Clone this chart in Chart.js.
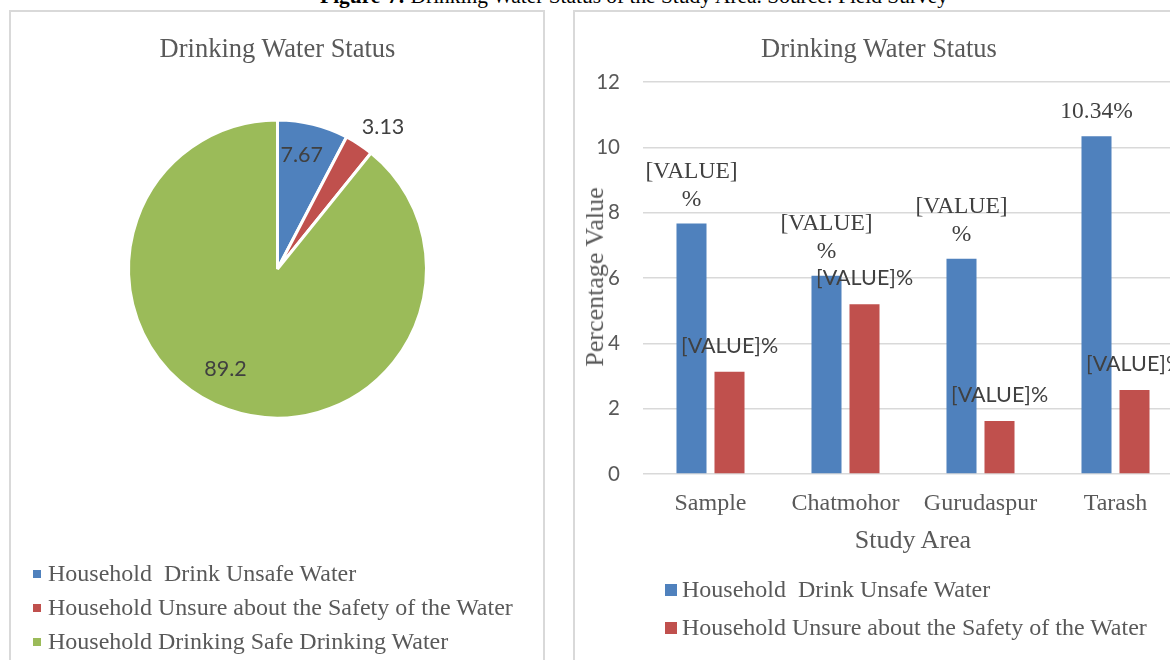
<!DOCTYPE html>
<html>
<head>
<meta charset="utf-8">
<script src="https://cdn.jsdelivr.net/npm/chart.js@4.4.1/dist/chart.umd.min.js"></script>
<style>
html,body{margin:0;padding:0;width:1170px;height:660px;overflow:hidden;background:#fff;}
body{position:relative;font-family:"Liberation Serif","Times New Roman",serif;color:#595959;}
#caption{position:absolute;left:634px;top:-15px;transform:translateX(-50%);font-size:21.4px;line-height:23px;color:#000;white-space:nowrap;}
.panel{position:absolute;box-sizing:border-box;border:2px solid #d9d9d9;border-bottom:none;}
#panelL{left:9px;top:10px;width:536px;height:700px;}
#panelR{left:573px;top:10px;width:700px;height:700px;border-right:none;}
.ctext{position:absolute;white-space:pre;transform:translate(-50%,-50%);line-height:1.15;}
.title{font-size:26.5px;}
.axis{font-size:26px;}
.legend{position:absolute;font-size:24px;line-height:1.15;white-space:pre;}
.legend .row{position:absolute;left:0;white-space:pre;transform:translateY(-50%);}
canvas{position:absolute;}
</style>
</head>
<body>
<div id="caption"><b>Figure-7:</b> Drinking Water Status of the Study Area. Source: Field Survey</div>
<div class="panel" id="panelL"></div>
<div class="panel" id="panelR"></div>
<canvas id="pie" width="560" height="660" style="left:0;top:0;"></canvas>
<canvas id="bar" width="620" height="660" style="left:576px;top:0;"></canvas>
<div class="ctext title" style="left:277.5px;top:48px;">Drinking Water Status</div>
<div class="ctext title" style="left:879px;top:48px;">Drinking Water Status</div>
<div class="ctext axis" style="left:913px;top:540px;">Study Area</div>
<div class="ctext axis" style="left:595px;top:277px;transform:translate(-50%,-50%) rotate(-90deg);">Percentage Value</div>
<div class="legend" id="legL" style="left:0;top:0;"></div>
<div class="legend" id="legR" style="left:0;top:0;"></div>
<script>
// ---- data ----
const pieLabels = ["Household  Drink Unsafe Water", "Household Unsure about the Safety of the Water", "Household Drinking Safe Drinking Water"];
const pieValues = [7.67, 3.13, 89.2];
const pieColors = ["#4F81BD", "#C0504D", "#9BBB59"];
const pieValueLabels = ["7.67", "3.13", "89.2"];

const categories = ["Sample", "Chatmohor", "Gurudaspur", "Tarash"];
const seriesNames = ["Household  Drink Unsafe Water", "Household Unsure about the Safety of the Water"];
const unsafeValues = [7.67, 6.07, 6.59, 10.34];
const unsureValues = [3.13, 5.20, 1.62, 2.57];
const unsafeLabelText = [["[VALUE]", "%"], ["[VALUE]", "%"], ["[VALUE]", "%"], ["10.34%"]];
const unsureLabelText = ["[VALUE]%", "[VALUE]%", "[VALUE]%", "[VALUE]%"];
const yMin = 0, yMax = 12, yStep = 2;

// ---- styles (placement of pie labels relative to slice: angle shift deg, radius factor) ----
const pieLabelPlace = [{da: -1.8, rf: 0.783}, {da: 3.45, rf: 1.186}, {da: 8.06, rf: 0.755}];

function buildLegend(el, names, colors, x0, rows, sw, textX) {
  names.forEach((n, i) => {
    const r = document.createElement('div');
    r.className = 'row';
    r.style.top = rows[i] + 'px';
    r.style.left = textX + 'px';
    r.textContent = n;
    el.appendChild(r);
    const s = document.createElement('div');
    s.style.position = 'absolute';
    s.style.left = x0 + 'px';
    s.style.top = (rows[i] - sw / 2) + 'px';
    s.style.width = sw + 'px';
    s.style.height = sw + 'px';
    s.style.background = colors[i];
    el.appendChild(s);
  });
}
buildLegend(document.getElementById('legL'), pieLabels, pieColors, 33, [574, 608, 642], 8, 48);
buildLegend(document.getElementById('legR'), seriesNames, pieColors.slice(0, 2), 665, [590, 628], 12, 682);

const pieLabelPlugin = {
  id: 'pieLabels',
  afterDatasetsDraw(chart) {
    const ctx = chart.ctx;
    const meta = chart.getDatasetMeta(0);
    ctx.save();
    ctx.font = '21.5px Lato';
    ctx.fillStyle = '#404040';
    ctx.textAlign = 'center';
    ctx.textBaseline = 'middle';
    meta.data.forEach((arc, i) => {
      const p = pieLabelPlace[i];
      const mid = (arc.startAngle + arc.endAngle) / 2 + p.da * Math.PI / 180;
      const r = arc.outerRadius * p.rf;
      ctx.fillText(pieValueLabels[i], arc.x + Math.cos(mid) * r, arc.y + Math.sin(mid) * r);
    });
    ctx.restore();
  }
};

const barLabelPlugin = {
  id: 'barLabels',
  afterDatasetsDraw(chart) {
    const ctx = chart.ctx;
    ctx.save();
    ctx.textAlign = 'center';
    ctx.textBaseline = 'middle';
    ctx.fillStyle = '#404040';
    ctx.font = '23.5px "Liberation Serif"';
    chart.getDatasetMeta(0).data.forEach((bar, i) => {
      const lines = unsafeLabelText[i];
      lines.forEach((t, j) => {
        ctx.fillText(t, bar.x, bar.y - 24 - (lines.length - 1 - j) * 28);
      });
    });
    ctx.font = '21.5px Lato';
    chart.getDatasetMeta(1).data.forEach((bar, i) => {
      ctx.fillText(unsureLabelText[i], bar.x, bar.y - 26);
    });
    ctx.restore();
  }
};

function draw() {
  new Chart(document.getElementById('pie'), {
    type: 'pie',
    data: {
      labels: pieLabels,
      datasets: [{data: pieValues, backgroundColor: pieColors, borderColor: '#ffffff', borderWidth: 3}]
    },
    options: {
      responsive: false,
      animation: false,
      layout: {padding: {left: 127, top: 118.5, right: 132, bottom: 240.5}},
      plugins: {legend: {display: false}, tooltip: {enabled: false}, title: {display: false}}
    },
    plugins: [pieLabelPlugin]
  });

  new Chart(document.getElementById('bar'), {
    type: 'bar',
    data: {
      labels: categories,
      datasets: [
        {label: seriesNames[0], data: unsafeValues, backgroundColor: pieColors[0], borderWidth: 0,
         categoryPercentage: 0.563, barPercentage: 0.79},
        {label: seriesNames[1], data: unsureValues, backgroundColor: pieColors[1], borderWidth: 0,
         categoryPercentage: 0.563, barPercentage: 0.79}
      ]
    },
    options: {
      responsive: false,
      animation: false,
      layout: {padding: {left: 0, right: 13, top: 82, bottom: 0}},
      plugins: {legend: {display: false}, tooltip: {enabled: false}, title: {display: false}},
      scales: {
        x: {
          grid: {display: false},
          border: {display: false},
          ticks: {font: {family: '"Liberation Serif"', size: 24}, color: '#595959', padding: 7},
          afterFit(s) { s.height = 186; }
        },
        y: {
          min: yMin, max: yMax,
          grid: {color: '#d9d9d9', lineWidth: 1.5, drawTicks: false},
          border: {display: false},
          ticks: {stepSize: yStep, font: {family: 'Lato', size: 20.5}, color: '#595959', padding: 23},
          afterFit(s) { s.width = 67; }
        }
      }
    },
    plugins: [barLabelPlugin]
  });
}

Promise.all([
  document.fonts.load('21px Lato'),
  document.fonts.load('24px "Liberation Serif"')
]).then(draw, draw);
</script>
</body>
</html>
